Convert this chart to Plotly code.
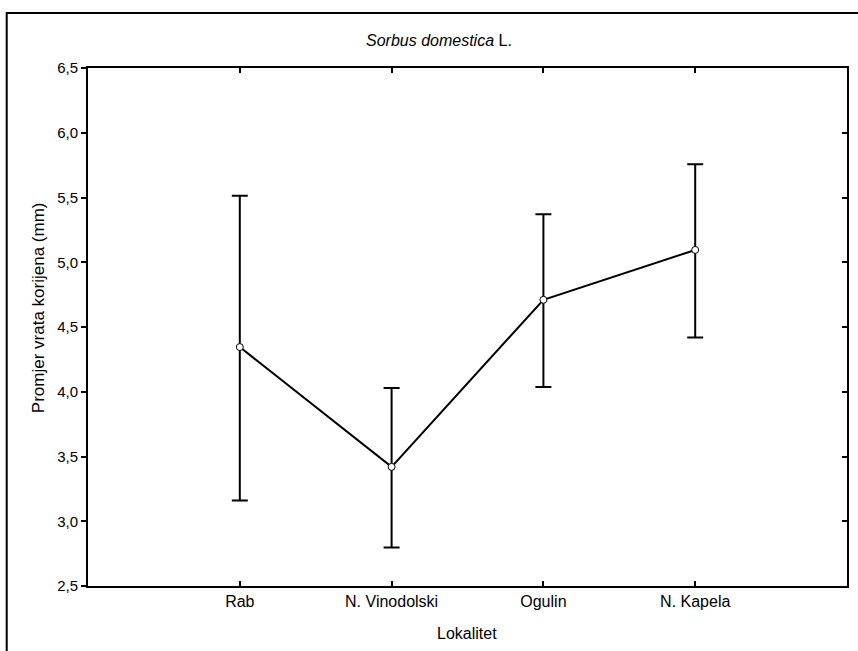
import plotly.graph_objects as go

categories = ["Rab", "N. Vinodolski", "Ogulin", "N. Kapela"]
means = [4.345, 3.42, 4.71, 5.095]
upper = [5.513, 4.029, 5.371, 5.756]
lower = [3.16, 2.798, 4.037, 4.419]
y_ticks = [2.5, 3.0, 3.5, 4.0, 4.5, 5.0, 5.5, 6.0, 6.5]
y_tick_labels = ["2,5", "3,0", "3,5", "4,0", "4,5", "5,0", "5,5", "6,0", "6,5"]

err_plus = [u - m for u, m in zip(upper, means)]
err_minus = [m - l for m, l in zip(means, lower)]

W, H = 858, 651
L, R, T, B = 88, 9, 68, 65
pw, ph = W - L - R, H - T - B

def px(x):
    return (x - L) / pw

def py(y):
    return (H - B - y) / ph

FONT = "Liberation Sans, Arial, sans-serif"

fig = go.Figure()
fig.add_trace(go.Scatter(
    x=categories, y=means, mode="lines+markers",
    line=dict(color="black", width=2),
    marker=dict(symbol="circle", size=7, color="white",
                line=dict(color="black", width=1)),
    error_y=dict(type="data", symmetric=False, array=err_plus,
                 arrayminus=err_minus, color="black", thickness=2, width=8),
    showlegend=False, hoverinfo="skip",
))
# invisible trace for the right-hand mirrored axis
fig.add_trace(go.Scatter(x=categories[:1], y=[means[0]], yaxis="y2",
                         mode="markers", marker=dict(opacity=0),
                         showlegend=False, hoverinfo="skip"))

fig.update_layout(
    width=W, height=H,
    margin=dict(l=L, r=R, t=T, b=B),
    paper_bgcolor="white", plot_bgcolor="white",
    font=dict(family=FONT, size=15, color="black"),
    xaxis=dict(type="category", range=[-1, 4],
               showline=True, linecolor="black", linewidth=2, mirror="ticks",
               ticks="inside", ticklen=5, tickwidth=2, tickcolor="black",
               showgrid=False, zeroline=False,
               tickfont=dict(family=FONT, size=16, color="black")),
    yaxis=dict(range=[2.5, 6.5], tickvals=y_ticks, ticktext=y_tick_labels,
               showline=True, linecolor="black", linewidth=2, mirror=True,
               ticks="outside", ticklen=5, tickwidth=2, tickcolor="black",
               showgrid=False, zeroline=False,
               tickfont=dict(family=FONT, size=15, color="black")),
    yaxis2=dict(range=[2.5, 6.5], tickvals=y_ticks, overlaying="y", side="right",
                showticklabels=False, ticks="inside", ticklen=5, tickwidth=2,
                tickcolor="black", showline=False, showgrid=False, zeroline=False),
    shapes=[dict(type="rect", xref="paper", yref="paper",
                 x0=px(6.5), x1=px(1200), y0=py(1200), y1=py(13),
                 line=dict(color="black", width=2), fillcolor="rgba(0,0,0,0)",
                 layer="below")],
    annotations=[
        dict(text="<i>Sorbus domestica</i> L.", xref="paper", yref="paper",
             x=px(440), y=py(40), showarrow=False, xanchor="center", yanchor="middle",
             font=dict(family=FONT, size=16, color="black")),
        dict(text="Promjer vrata korijena (mm)", xref="paper", yref="paper",
             x=px(38), y=py(308), showarrow=False, textangle=-90,
             xanchor="center", yanchor="middle",
             font=dict(family=FONT, size=17, color="black")),
        dict(text="Lokalitet", xref="paper", yref="paper",
             x=px(468), y=py(633), showarrow=False, xanchor="center", yanchor="middle",
             font=dict(family=FONT, size=16, color="black")),
    ],
)

fig.write_html("out.html", config={"displayModeBar": False},
               post_script="document.body.style.margin='0';")
